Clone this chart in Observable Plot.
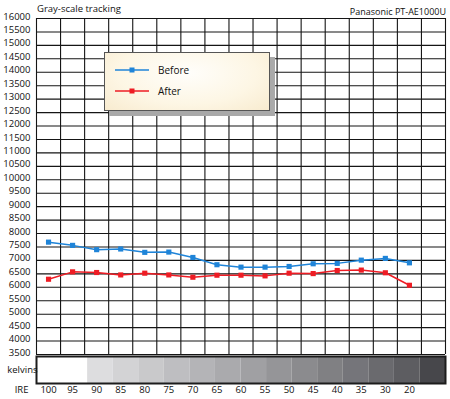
<!DOCTYPE html>
<html><head><meta charset="utf-8">
<script src="https://cdn.jsdelivr.net/npm/d3@7"></script>
<script src="https://cdn.jsdelivr.net/npm/@observablehq/plot@0.6"></script>
<style>
body{margin:0;background:#fff;font-family:"Open Sans",sans-serif;}
#wrap{position:relative;width:450px;height:399px;overflow:hidden;}
#wrap svg{display:block;}
.t{position:absolute;font-size:9.5px;line-height:12px;color:#111;white-space:nowrap;}
#legend{position:absolute;left:104px;top:52px;width:164px;height:57px;border:1px solid #555;
 background:radial-gradient(ellipse at 50% 35%, #fffefb 0%, #fdf6e4 60%, #f8ebcf 100%);
 box-shadow:5px 5px 0 #a9a9a9;}
#legend .sw{position:absolute;left:10px;}
#legend .lab{position:absolute;left:53px;font-size:10px;line-height:12px;color:#111;}
</style></head><body>
<div id="wrap">
 <div id="chart"></div>
 <div id="strip"></div>
 <div class="t" style="left:37px;top:3px">Gray-scale tracking</div>
 <div class="t" style="right:4px;top:6px;font-size:9px">Panasonic PT-AE1000U</div>
 <div id="legend"></div>
</div>
<script>
const ireLabels = ["100","95","90","85","80","75","70","65","60","55","50","45","40","35","30","20"];
const beforeValues = [7680,7560,7400,7425,7300,7310,7110,6840,6750,6750,6775,6875,6890,7010,7075,6910];
const afterValues  = [6300,6575,6550,6460,6525,6460,6375,6450,6450,6425,6525,6510,6625,6640,6540,6075];
const yTicks = d3.range(3500, 16001, 500);
const grayPatches = ["#ffffff","#ffffff","#dddddf","#d3d3d5","#c9c9cb","#bebec1","#b4b4b7","#aaaaad","#a0a0a3","#959598","#8b8b8e","#808083","#75757a","#6a6a6e","#5d5d61","#47474b"];
const seriesNames = ["Before","After"];
const seriesColors = ["#1f84d8","#ee1c24"];

const nCols = ireLabels.length + 1;
const rows = [];
ireLabels.forEach((l,i)=>{
  rows.push({i, label:l, series:"Before", v:beforeValues[i]});
  rows.push({i, label:l, series:"After", v:afterValues[i]});
});

const font = {fontFamily:"'Open Sans', sans-serif", fontSize:"9.5px", color:"#111", background:"transparent", overflow:"visible"};

const main = Plot.plot({
  width:450, height:355, marginLeft:36, marginRight:5, marginTop:18, marginBottom:1,
  style:font,
  x:{domain:[0,nCols], axis:null},
  y:{domain:[3500,16000], axis:null},
  color:{domain:seriesNames, range:seriesColors},
  marks:[
    Plot.ruleY(yTicks, {stroke:"#151515", strokeWidth:1.1}),
    Plot.ruleX(d3.range(nCols+1), {stroke:"#151515", strokeWidth:1.1}),
    Plot.text(yTicks, {y:d=>d, text:d=>String(d), frameAnchor:"left", textAnchor:"end", dx:-6, dy:-2, fill:"#111"}),
    Plot.line(rows, {x:d=>d.i+0.5, y:"v", z:"series", stroke:"series", strokeWidth:1.5}),
    Plot.dot(rows, {x:d=>d.i+0.5, y:"v", fill:"series", symbol:"square", r:2.9})
  ]
});
document.getElementById("chart").appendChild(main);

const strip = Plot.plot({
  width:450, height:44, marginLeft:36, marginRight:5, marginTop:1, marginBottom:16,
  style:font,
  x:{domain:[0,nCols], axis:null},
  marks:[
    Plot.rect(grayPatches, {x1:(d,i)=>i*nCols/grayPatches.length, x2:(d,i)=>(i+1)*nCols/grayPatches.length, fill:d=>d}),
    Plot.frame({stroke:"#1c1c1c", strokeWidth:2}),
    Plot.text(["kelvins"], {frameAnchor:"left", textAnchor:"end", dx:1, fill:"#111"}),
    Plot.text(ireLabels, {x:(d,i)=>i+0.5, text:d=>d, frameAnchor:"bottom", dy:9, fill:"#111"}),
    Plot.text(["IRE"], {frameAnchor:"bottom-left", textAnchor:"end", dx:-8, dy:9, fill:"#111"})
  ]
});
document.getElementById("strip").appendChild(strip);

const legend = document.getElementById("legend");
seriesNames.forEach((name,k)=>{
  const top = 17 + k*21;
  const sw = document.createElement("div");
  sw.className = "sw";
  sw.style.top = (top-4)+"px";
  sw.innerHTML = `<svg width="36" height="8"><line x1="0" y1="4" x2="34" y2="4" stroke="${seriesColors[k]}" stroke-width="1.5"/><rect x="14.5" y="1.5" width="5" height="5" fill="${seriesColors[k]}"/></svg>`;
  legend.appendChild(sw);
  const lab = document.createElement("div");
  lab.className = "lab";
  lab.style.top = (top-6)+"px";
  lab.textContent = name;
  legend.appendChild(lab);
});
</script>
</body></html>
